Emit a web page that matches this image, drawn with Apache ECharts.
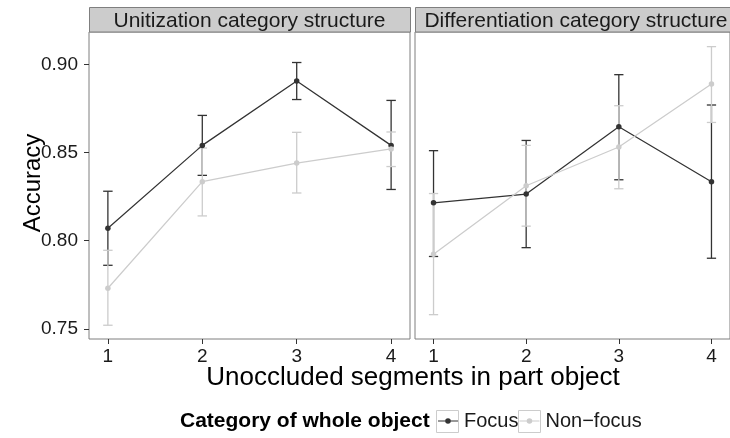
<!DOCTYPE html>
<html>
<head>
<meta charset="utf-8">
<script src="https://cdn.jsdelivr.net/npm/echarts@6.0.0/dist/echarts.min.js"></script>
<style>
html,body{margin:0;padding:0;background:#fff;}
#chart{width:730px;height:438px;}
</style>
</head>
<body>
<div id="chart"></div>
<script>
// ---- data ----
const xTicks = [1, 2, 3, 4];
const yTicks = [0.75, 0.80, 0.85, 0.90];
const panelNames = ['Unitization category structure', 'Differentiation category structure'];
const groupNames = ['Focus', 'Non\u2212focus'];

// Unitization category structure
const uniFocusMean = [0.807, 0.854, 0.8905, 0.854];
const uniFocusLo   = [0.786, 0.837, 0.880, 0.829];
const uniFocusHi   = [0.828, 0.871, 0.901, 0.8795];
const uniNonMean   = [0.773, 0.8334, 0.844, 0.852];
const uniNonLo     = [0.752, 0.814, 0.827, 0.842];
const uniNonHi     = [0.7945, 0.8525, 0.8614, 0.8616];

// Differentiation category structure
const difFocusMean = [0.8214, 0.8264, 0.8646, 0.8334];
const difFocusLo   = [0.791, 0.796, 0.8345, 0.790];
const difFocusHi   = [0.851, 0.8568, 0.8941, 0.8769];
const difNonMean   = [0.7923, 0.8311, 0.8531, 0.8888];
const difNonLo     = [0.758, 0.8082, 0.8294, 0.867];
const difNonHi     = [0.8267, 0.854, 0.8765, 0.910];

// ---- styling ----
const FONT = "'Liberation Sans', Arial, Helvetica, sans-serif";
const DARK = '#333333';
const LIGHT = '#cccccc';
const BORDER = '#7f7f7f';

function pts(mean) { return xTicks.map((x, i) => [x, mean[i]]); }
function bars(lo, hi) { return xTicks.map((x, i) => [x, lo[i], hi[i]]); }

function errorSeries(name, idx, lo, hi, color) {
  return {
    type: 'custom', name: name, xAxisIndex: idx, yAxisIndex: idx, z: 1,
    itemStyle: { color: color },
    data: bars(lo, hi),
    renderItem: function (params, api) {
      const x = api.value(0);
      const pLo = api.coord([x, api.value(1)]);
      const pHi = api.coord([x, api.value(2)]);
      const hw = api.coord([x + 0.05, api.value(1)])[0] - pLo[0];
      const st = { stroke: color, lineWidth: 1.3 };
      return {
        type: 'group',
        children: [
          { type: 'line', shape: { x1: pLo[0], y1: pLo[1], x2: pHi[0], y2: pHi[1] }, style: st },
          { type: 'line', shape: { x1: pLo[0] - hw, y1: pLo[1], x2: pLo[0] + hw, y2: pLo[1] }, style: st },
          { type: 'line', shape: { x1: pHi[0] - hw, y1: pHi[1], x2: pHi[0] + hw, y2: pHi[1] }, style: st }
        ]
      };
    }
  };
}

function lineSeries(name, idx, mean, color) {
  return {
    type: 'line', name: name, xAxisIndex: idx, yAxisIndex: idx, z: 3,
    data: pts(mean),
    symbol: 'circle', symbolSize: 5.5, showSymbol: true,
    lineStyle: { color: color, width: 1.25 },
    itemStyle: { color: color, borderWidth: 0 },
    emphasis: { disabled: true }
  };
}

const grids = [
  { left: 89, top: 32, width: 321, height: 307 },
  { left: 415, top: 32, width: 322, height: 307 }
];

function xAxisFor(idx) {
  return {
    type: 'value', gridIndex: idx, min: 0.8, max: 4.2,
    axisLine: { show: false },
    splitLine: { show: false },
    axisTick: { show: true, length: 5, customValues: xTicks, lineStyle: { color: '#333', width: 1 } },
    axisLabel: { customValues: xTicks, fontSize: 19, fontFamily: FONT, color: '#1a1a1a', margin: 8 }
  };
}
function yAxisFor(idx) {
  return {
    type: 'value', gridIndex: idx, min: 0.7442, max: 0.9183,
    show: idx === 0,
    axisLine: { show: false },
    splitLine: { show: false },
    axisTick: { show: idx === 0, length: 5, customValues: yTicks, lineStyle: { color: '#333', width: 1 } },
    axisLabel: { show: idx === 0, customValues: yTicks, formatter: v => v.toFixed(2), fontSize: 19, fontFamily: FONT, color: '#1a1a1a', margin: 11 }
  };
}

// Legend key icon: thin line + small dot, with tiny corner anchors to keep the 22x22 box
const ICON = 'path://M0,0 L0.01,0 L0,0.01 Z M22,22 L21.99,22 L22,21.99 Z M1,10.4 L21,10.4 L21,11.6 L1,11.6 Z M13.8,11 A2.8,2.8 0 1 1 8.2,11 A2.8,2.8 0 1 1 13.8,11 Z';

const graphics = [];
panelNames.forEach((t, i) => {
  const g = grids[i];
  graphics.push({ type: 'rect', silent: true, z: 10,
    shape: { x: g.left + 0.5, y: 7.5, width: g.width, height: 24.5 },
    style: { fill: '#cccccc', stroke: BORDER, lineWidth: 1 } });
  graphics.push({ type: 'text', silent: true, z: 11,
    x: g.left + g.width / 2, y: 21,
    style: { text: t, font: '21px ' + FONT, fill: '#1a1a1a', textAlign: 'center', textVerticalAlign: 'middle' } });
});
graphics.push({ type: 'text', silent: true, x: 413, y: 377.5,
  style: { text: 'Unoccluded segments in part object', font: '26px ' + FONT, fill: '#000', textAlign: 'center', textVerticalAlign: 'middle' } });
graphics.push({ type: 'text', silent: true, x: 33, y: 183, rotation: Math.PI / 2,
  style: { text: 'Accuracy', font: '24px ' + FONT, fill: '#000', textAlign: 'center', textVerticalAlign: 'middle' } });
graphics.push({ type: 'text', silent: true, x: 180, y: 421,
  style: { text: 'Category of whole object', font: 'bold 21px ' + FONT, fill: '#000', textAlign: 'left', textVerticalAlign: 'middle' } });
graphics.push({ type: 'rect', silent: true, z: -1, shape: { x: 436.5, y: 410.5, width: 22, height: 22 }, style: { fill: '#fff', stroke: '#cccccc', lineWidth: 1 } });
graphics.push({ type: 'rect', silent: true, z: -1, shape: { x: 518.5, y: 410.5, width: 22, height: 22 }, style: { fill: '#fff', stroke: '#cccccc', lineWidth: 1 } });

const chart = echarts.init(document.getElementById('chart'), null, { renderer: 'canvas' });
chart.setOption({
  animation: false,
  backgroundColor: '#ffffff',
  textStyle: { fontFamily: FONT },
  grid: grids.map(g => Object.assign({ show: true, borderColor: BORDER, borderWidth: 1, backgroundColor: '#fff' }, g)),
  xAxis: [xAxisFor(0), xAxisFor(1)],
  yAxis: [yAxisFor(0), yAxisFor(1)],
  legend: {
    left: 437, top: 410, orient: 'horizontal',
    itemWidth: 22, itemHeight: 22, itemGap: 0,
    padding: 0,
    selectedMode: false,
    itemStyle: { borderWidth: 0 },
    textStyle: { fontSize: 20, fontFamily: FONT, color: '#1a1a1a' },
    data: [{ name: groupNames[0], icon: ICON }, { name: groupNames[1], icon: ICON }]
  },
  graphic: graphics,
  series: [
    errorSeries(groupNames[0], 0, uniFocusLo, uniFocusHi, DARK),
    errorSeries(groupNames[1], 0, uniNonLo, uniNonHi, LIGHT),
    errorSeries(groupNames[0], 1, difFocusLo, difFocusHi, DARK),
    errorSeries(groupNames[1], 1, difNonLo, difNonHi, LIGHT),
    lineSeries(groupNames[0], 0, uniFocusMean, DARK),
    lineSeries(groupNames[1], 0, uniNonMean, LIGHT),
    lineSeries(groupNames[0], 1, difFocusMean, DARK),
    lineSeries(groupNames[1], 1, difNonMean, LIGHT)
  ]
});
</script>
</body>
</html>
